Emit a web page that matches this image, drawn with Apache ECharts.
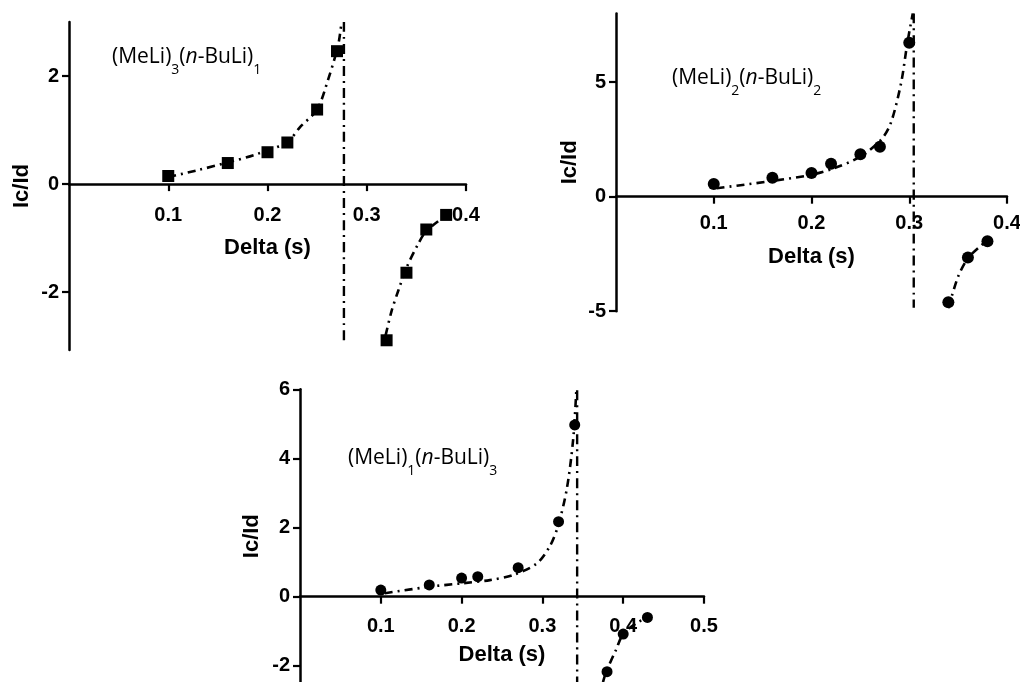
<!DOCTYPE html>
<html>
<head>
<meta charset="utf-8">
<script src="https://cdn.jsdelivr.net/npm/echarts@6/dist/echarts.min.js"></script>
<style>html,body{margin:0;padding:0;background:#fff;}#c{width:1020px;height:682px;}</style>
</head>
<body>
<div id="c"></div>
<script>
// ---- Panel 1: (MeLi)3(n-BuLi)1 ----
const p1X = [0.10, 0.16, 0.20, 0.22, 0.25, 0.27, 0.32, 0.34, 0.36, 0.38];
const p1Y = [0.15, 0.39, 0.59, 0.77, 1.38, 2.46, -2.89, -1.64, -0.84, -0.57];
const p1FitLX = [0.100, 0.130, 0.160, 0.190, 0.220, 0.233, 0.250, 0.261, 0.268, 0.272, 0.2746];
const p1FitLY = [0.13, 0.26, 0.40, 0.56, 0.78, 1.06, 1.38, 1.93, 2.35, 2.65, 3.0];
const p1FitRX = [0.319, 0.325, 0.332, 0.340, 0.352, 0.360, 0.380];
const p1FitRY = [-2.80, -2.35, -1.96, -1.55, -1.10, -0.87, -0.58];
const p1AsymX = [0.277, 0.277];
const p1AsymY = [3.0, -2.89];
const p1XTicks = [0.1, 0.2, 0.3, 0.4];
const p1YTicks = [-2, 0, 2];

// ---- Panel 2: (MeLi)2(n-BuLi)2 ----
const p2X = [0.10, 0.16, 0.20, 0.22, 0.25, 0.27, 0.30, 0.34, 0.36, 0.38];
const p2Y = [0.55, 0.83, 1.03, 1.44, 1.85, 2.18, 6.72, -4.61, -2.66, -1.95];
const p2FitLX = [0.103, 0.155, 0.199, 0.223, 0.250, 0.271, 0.281, 0.2916, 0.298, 0.3036];
const p2FitLY = [0.37, 0.66, 0.95, 1.24, 1.75, 2.48, 3.2, 4.95, 6.7, 8.0];
const p2FitRX = [0.340, 0.350, 0.360, 0.374, 0.380];
const p2FitRY = [-4.87, -3.49, -2.69, -2.11, -1.95];
const p2AsymX = [0.3046, 0.3046];
const p2AsymY = [8.0, -4.85];
const p2XTicks = [0.1, 0.2, 0.3, 0.4];
const p2YTicks = [-5, 0, 5];

// ---- Panel 3: (MeLi)1(n-BuLi)3 ----
const p3X = [0.10, 0.16, 0.20, 0.22, 0.27, 0.32, 0.34, 0.38, 0.40, 0.43];
const p3Y = [0.19, 0.34, 0.54, 0.58, 0.84, 2.17, 4.97, -2.17, -1.08, -0.60];
const p3FitLX = [0.105, 0.161, 0.202, 0.235, 0.264, 0.293, 0.309, 0.319, 0.330, 0.338, 0.342];
const p3FitLY = [0.10, 0.29, 0.39, 0.48, 0.63, 0.96, 1.45, 2.02, 3.09, 4.53, 5.98];
const p3FitRX = [0.375, 0.379, 0.391, 0.400, 0.416, 0.430];
const p3FitRY = [-2.47, -2.17, -1.54, -1.08, -0.77, -0.60];
const p3AsymX = [0.343, 0.343];
const p3AsymY = [5.97, -2.5];
const p3XTicks = [0.1, 0.2, 0.3, 0.4, 0.5];
const p3YTicks = [-2, 0, 2, 4, 6];

const titles = [
  '(MeLi){sub|3}({it|n}-BuLi){sub|1}',
  '(MeLi){sub|2}({it|n}-BuLi){sub|2}',
  '(MeLi){sub|1}({it|n}-BuLi){sub|3}'
];

const zip = (xs, ys) => xs.map((x, i) => [x, ys[i]]);

// panel frames (pixel layout only)
const frames = [
  { left: 69,  top: 22,    width: 397, height: 328,   yMin: -3.07, yMax: 3.0, xMax: 0.4, nameGap: 53, yNameGap: 36, xMargin: 21 },
  { left: 616, top: 13.5,  width: 391, height: 297.7, yMin: -5,    yMax: 8,   xMax: 0.4, nameGap: 49, yNameGap: 35, xMargin: 17 },
  { left: 300, top: 389.3, width: 404, height: 293.8, yMin: -2.5,  yMax: 6,   xMax: 0.5, nameGap: 47, yNameGap: 37, xMargin: 20 }
];
const xTicks = [p1XTicks, p2XTicks, p3XTicks];
const yTicks = [p1YTicks, p2YTicks, p3YTicks];

const AX_FONT = 'Liberation Sans';
const axLine = { color: '#000', width: 2.5 };
const tickLine = { color: '#000', width: 2.2 };
const labelFont = { fontFamily: AX_FONT, fontWeight: 'bold', fontSize: 20, color: '#000' };
const nameFont = { fontFamily: AX_FONT, fontWeight: 'bold', fontSize: 22, color: '#000' };

const grids = [], xAxes = [], yAxes = [];
frames.forEach((f, i) => {
  // data grid
  grids.push({ left: f.left, top: f.top, width: f.width, height: f.height, outerBoundsMode: 'none', containLabel: false });
  // axis grid: bottom edge sits at the y=0 line of the data grid
  const zeroH = f.height * f.yMax / (f.yMax - f.yMin);
  grids.push({ left: f.left, top: f.top, width: f.width, height: zeroH, outerBoundsMode: 'none', containLabel: false });
  xAxes.push({ type: 'value', gridIndex: 2 * i, min: 0, max: f.xMax, show: false });
  xAxes.push({
    type: 'value', gridIndex: 2 * i + 1, min: 0, max: f.xMax, position: 'bottom',
    name: 'Delta (s)', nameLocation: 'middle', nameGap: f.nameGap, nameTextStyle: nameFont,
    axisLine: { show: true, onZero: false, lineStyle: axLine },
    axisTick: { show: true, length: 7, lineStyle: tickLine, customValues: xTicks[i] },
    axisLabel: Object.assign({ margin: f.xMargin, customValues: xTicks[i], formatter: v => String(v) }, labelFont),
    splitLine: { show: false }
  });
  yAxes.push({
    type: 'value', gridIndex: 2 * i, min: f.yMin, max: f.yMax,
    name: 'Ic/Id', nameLocation: 'middle', nameGap: f.yNameGap, nameRotate: 90, nameTextStyle: nameFont,
    axisLine: { show: true, onZero: false, lineStyle: axLine },
    axisTick: { show: true, length: 7, lineStyle: tickLine, customValues: yTicks[i] },
    axisLabel: Object.assign({ margin: 10, customValues: yTicks[i], formatter: v => String(v) }, labelFont),
    splitLine: { show: false }
  });
  yAxes.push({ type: 'value', gridIndex: 2 * i + 1, min: 0, max: 1, show: false });
});

const fitStyle = { color: '#000', width: 2.6, type: [8, 5, 2, 5] };
const asymStyle = { color: '#000', width: 2.4, type: [10, 5, 2, 5] };
function lineSeries(p, data, style) {
  return { type: 'line', xAxisIndex: 2 * p, yAxisIndex: 2 * p, data: data, smooth: 0.3,
           showSymbol: false, symbol: 'none', lineStyle: style, silent: true, animation: false, z: 2 };
}
function scatterSeries(p, data, symbol, size) {
  return { type: 'scatter', xAxisIndex: 2 * p, yAxisIndex: 2 * p, data: data, symbol: symbol,
           symbolSize: size, itemStyle: { color: '#000', opacity: 1 }, animation: false, z: 3 };
}
const titleStyle = {
  fontFamily: 'Open Sans', fontSize: 21, fontWeight: 'normal', color: '#000', lineHeight: 40,
  rich: {
    sub: { fontFamily: 'Open Sans', fontSize: 14, color: '#000', verticalAlign: 'bottom', lineHeight: 14 },
    it: { fontFamily: 'Open Sans', fontSize: 21, fontStyle: 'italic', color: '#000', lineHeight: 40 }
  }
};

const chart = echarts.init(document.getElementById('c'), null, { renderer: 'canvas' });
chart.setOption({
  backgroundColor: '#fff',
  animation: false,
  title: [
    { text: titles[0], left: 112, top: 37, padding: 0, textStyle: titleStyle },
    { text: titles[1], left: 672, top: 58, padding: 0, textStyle: titleStyle },
    { text: titles[2], left: 348, top: 438, padding: 0, textStyle: titleStyle }
  ],
  grid: grids,
  xAxis: xAxes,
  yAxis: yAxes,
  series: [
    lineSeries(0, zip(p1FitLX, p1FitLY), fitStyle),
    lineSeries(0, zip(p1FitRX, p1FitRY), fitStyle),
    lineSeries(0, zip(p1AsymX, p1AsymY), asymStyle),
    scatterSeries(0, zip(p1X, p1Y), 'rect', 12),
    lineSeries(1, zip(p2FitLX, p2FitLY), fitStyle),
    lineSeries(1, zip(p2FitRX, p2FitRY), fitStyle),
    lineSeries(1, zip(p2AsymX, p2AsymY), asymStyle),
    scatterSeries(1, zip(p2X, p2Y), 'circle', 12),
    lineSeries(2, zip(p3FitLX, p3FitLY), fitStyle),
    lineSeries(2, zip(p3FitRX, p3FitRY), fitStyle),
    lineSeries(2, zip(p3AsymX, p3AsymY), asymStyle),
    scatterSeries(2, zip(p3X, p3Y), 'circle', 11)
  ]
});
</script>
</body>
</html>
